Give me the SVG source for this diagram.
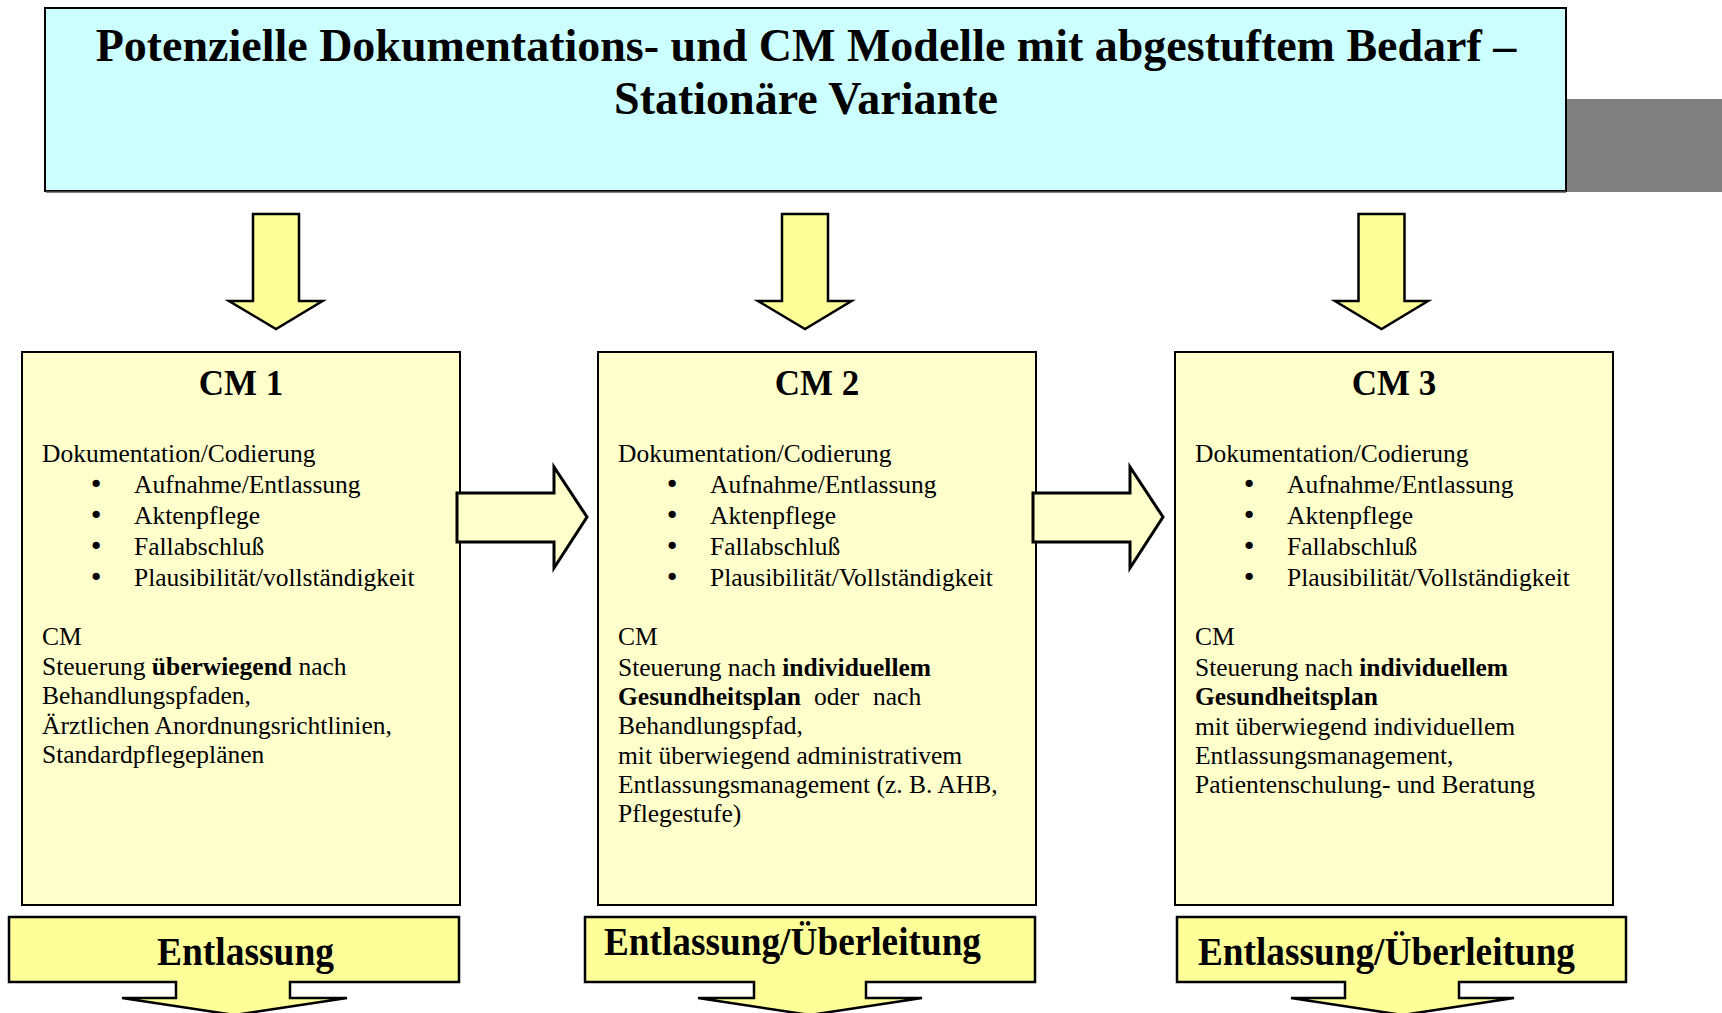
<svg xmlns="http://www.w3.org/2000/svg" width="1722" height="1013" viewBox="0 0 1722 1013">
<style>
  text { font-family: "Liberation Serif", "Times New Roman", serif; fill: #000; }
  .title { font-size: 46px; font-weight: bold; text-anchor: middle; }
  .head { font-size: 35px; font-weight: bold; text-anchor: middle; }
  .body { font-size: 25.5px; }
  .bul { font-family: "DejaVu Sans", sans-serif; font-size: 25px; text-anchor: middle; }
  .b { font-weight: bold; }
  .call { font-size: 40px; font-weight: bold; }
  .box { fill: #FFFFCC; stroke: #000; stroke-width: 2; }
  .down { fill: #FFFF99; stroke: #000; stroke-width: 2.5; stroke-linejoin: miter; }
  .right { fill: #FFFFCC; stroke: #000; stroke-width: 3; stroke-linejoin: miter; }
  .callout { fill: #FFFF99; stroke: #000; stroke-width: 2.5; stroke-linejoin: miter; }
</style>

<g id="title">
  <rect x="1566" y="99" width="156" height="93" fill="#808080"/>
  <rect x="45" y="8" width="1521" height="183" fill="#CCFFFF" stroke="#000" stroke-width="2"/>
  <line x1="46" y1="192" x2="1566" y2="192" stroke="#555" stroke-width="1.5"/>
  <text class="title" x="806" y="61">Potenzielle Dokumentations- und CM Modelle mit abgestuftem Bedarf –</text>
  <text class="title" x="806" y="114">Stationäre Variante</text>
</g>

<g id="cm1">
  <rect class="box" x="22" y="352" width="438" height="553"/>
  <text class="head" x="241" y="395">CM 1</text>
  <text class="body" x="42" y="462">Dokumentation/Codierung</text>
  <text class="bul" x="96" y="493">•</text><text class="body" x="134" y="493">Aufnahme/Entlassung</text>
  <text class="bul" x="96" y="524">•</text><text class="body" x="134" y="524">Aktenpflege</text>
  <text class="bul" x="96" y="555">•</text><text class="body" x="134" y="555">Fallabschluß</text>
  <text class="bul" x="96" y="586">•</text><text class="body" x="134" y="586">Plausibilität/vollständigkeit</text>
  <text class="body" x="42" y="645">CM</text>
  <text class="body" x="42" y="675">Steuerung <tspan class="b">überwiegend</tspan> nach</text>
  <text class="body" x="42" y="704">Behandlungspfaden,</text>
  <text class="body" x="42" y="734">Ärztlichen Anordnungsrichtlinien,</text>
  <text class="body" x="42" y="763">Standardpflegeplänen</text>
</g>

<g id="cm2">
  <rect class="box" x="598" y="352" width="438" height="553"/>
  <text class="head" x="817" y="395">CM 2</text>
  <text class="body" x="618" y="462">Dokumentation/Codierung</text>
  <text class="bul" x="672" y="493">•</text><text class="body" x="710" y="493">Aufnahme/Entlassung</text>
  <text class="bul" x="672" y="524">•</text><text class="body" x="710" y="524">Aktenpflege</text>
  <text class="bul" x="672" y="555">•</text><text class="body" x="710" y="555">Fallabschluß</text>
  <text class="bul" x="672" y="586">•</text><text class="body" x="710" y="586">Plausibilität/Vollständigkeit</text>
  <text class="body" x="618" y="645">CM</text>
  <text class="body" x="618" y="676">Steuerung nach <tspan class="b">individuellem</tspan></text>
  <text class="body" y="705"><tspan class="b" x="618">Gesundheitsplan</tspan><tspan x="814">oder</tspan><tspan x="873">nach</tspan></text>
  <text class="body" x="618" y="734">Behandlungspfad,</text>
  <text class="body" x="618" y="764">mit überwiegend administrativem</text>
  <text class="body" x="618" y="793">Entlassungsmanagement (z. B. AHB,</text>
  <text class="body" x="618" y="822">Pflegestufe)</text>
</g>

<g id="cm3">
  <rect class="box" x="1175" y="352" width="438" height="553"/>
  <text class="head" x="1394" y="395">CM 3</text>
  <text class="body" x="1195" y="462">Dokumentation/Codierung</text>
  <text class="bul" x="1249" y="493">•</text><text class="body" x="1287" y="493">Aufnahme/Entlassung</text>
  <text class="bul" x="1249" y="524">•</text><text class="body" x="1287" y="524">Aktenpflege</text>
  <text class="bul" x="1249" y="555">•</text><text class="body" x="1287" y="555">Fallabschluß</text>
  <text class="bul" x="1249" y="586">•</text><text class="body" x="1287" y="586">Plausibilität/Vollständigkeit</text>
  <text class="body" x="1195" y="645">CM</text>
  <text class="body" x="1195" y="676">Steuerung nach <tspan class="b">individuellem</tspan></text>
  <text class="body b" x="1195" y="705">Gesundheitsplan</text>
  <text class="body" x="1195" y="735">mit überwiegend individuellem</text>
  <text class="body" x="1195" y="764">Entlassungsmanagement,</text>
  <text class="body" x="1195" y="793">Patientenschulung- und Beratung</text>
</g>

<g id="connectors">
  <polygon class="down" points="253,214 299,214 299,301 322.5,301 276,329 229,301 253,301"/>
  <polygon class="down" points="782,214 828,214 828,301 851.5,301 805,329 758,301 782,301"/>
  <polygon class="down" points="1358.5,214 1404.5,214 1404.5,301 1428,301 1381.5,329 1335,301 1358.5,301"/>
  <polygon class="right" points="457,493 554,493 554,467 587,517 554,568 554,542 457,542"/>
  <polygon class="right" points="1033,493 1130,493 1130,467 1163,517 1130,568 1130,542 1033,542"/>
</g>

<g id="exit1">
  <path class="callout" d="M9,917 H459 V982 H290 V998 H347 L234.5,1015 L122,998 H176 V982 H9 Z"/>
  <text class="call" x="157" y="965" textLength="177" lengthAdjust="spacingAndGlyphs">Entlassung</text>
</g>
<g id="exit2">
  <path class="callout" d="M585,917 H1035 V982 H866 V998 H922 L810,1015 L698,998 H754 V982 H585 Z"/>
  <text class="call" x="604" y="955" textLength="377" lengthAdjust="spacingAndGlyphs">Entlassung/Überleitung</text>
</g>
<g id="exit3">
  <path class="callout" d="M1177,917 H1626 V982 H1459 V998 H1514 L1402.5,1015 L1291,998 H1345 V982 H1177 Z"/>
  <text class="call" x="1198" y="965" textLength="377" lengthAdjust="spacingAndGlyphs">Entlassung/Überleitung</text>
</g>
</svg>
